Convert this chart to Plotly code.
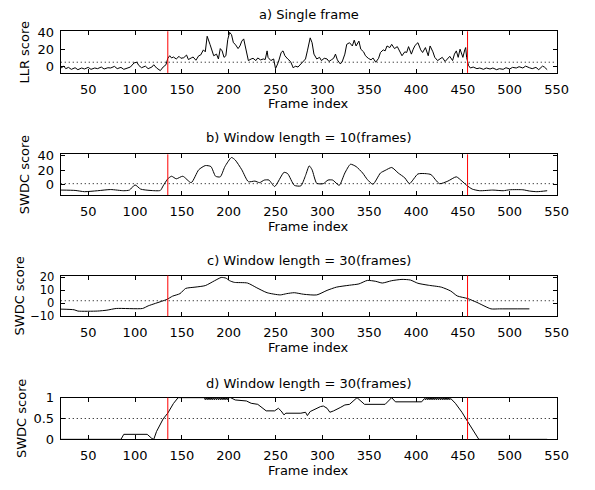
import plotly.graph_objects as go

# ---------------- data ----------------
frames_a = [21, 24, 26, 29, 32, 36, 39, 43, 46, 50, 53, 57, 60, 64, 67, 71, 74, 78, 81, 85, 88, 92, 95, 99,
            102, 104, 107, 111, 114, 118, 120, 123, 127, 130, 133, 135, 137, 139, 141, 144, 147, 149, 152,
            155, 157, 160, 162, 165, 168, 170, 173, 175, 177, 180, 182, 184, 187, 189, 191, 193, 195, 197,
            199, 201, 203, 205, 207, 210, 212, 214, 216, 217, 219, 221, 224, 226, 229, 231, 234, 237, 239,
            241, 242, 245, 248, 250, 253, 256, 258, 260, 263, 266, 269, 271, 274, 277, 279, 282, 284, 287,
            289, 291, 294, 297, 299, 302, 305, 307, 310, 312, 314, 316, 319, 321, 324, 326, 329, 332, 334,
            336, 339, 341, 344, 346, 349, 352, 354, 357, 360, 362, 365, 367, 369, 372, 374, 377, 380, 382,
            385, 388, 390, 392, 395, 397, 399, 402, 405, 407, 410, 413, 415, 418, 420, 423, 426, 428, 431,
            434, 436, 439, 441, 443, 445, 447, 450, 452, 453, 454, 456, 458, 461, 465, 468, 472, 475, 479,
            482, 486, 489, 493, 496, 500, 503, 507, 510, 514, 517, 521, 524, 528, 531, 535, 537, 540]
llr_a = [-2.2, 0.0, -3.0, -1.5, -3.8, -1.9, -4.2, -2.2, -3.4, -1.5, -3.8, -2.2, -3.0, -1.1, -3.4, -1.9, -2.2,
         -0.3, -3.0, -1.5, -3.8, -2.2, -1.1, 3.8, 4.6, 0.8, -1.9, 0.0, -3.0, -1.1, 1.6, -2.2, -5.3, -1.1, 1.6,
         9.2, 12.2, 9.6, 10.7, 8.4, 11.5, 9.2, 9.9, 13.0, 7.7, 9.6, 10.7, 6.9, 12.2, 13.0, 19.1, 16.8, 35.1,
         25.6, 17.9, 12.2, 14.1, 8.4, 20.6, 17.9, 10.3, 12.2, 31.3, 39.7, 37.0, 27.5, 25.6, 20.6, 23.7, 29.4,
         32.0, 26.7, 19.9, 6.5, 8.4, 9.2, 6.5, 9.6, 7.3, 8.4, 7.7, 17.9, 10.3, 6.5, 8.4, -3.0, 4.6, 16.0,
         17.9, 12.2, 8.4, 5.4, -2.2, 0.0, -1.1, 2.7, 5.4, 8.4, 17.9, 33.2, 27.5, 14.1, 8.4, 10.3, 6.5, 9.2,
         8.4, 5.4, 7.7, 9.2, 14.1, 7.3, 2.7, 4.6, 14.1, 25.6, 27.5, 23.7, 30.5, 23.7, 29.4, 19.9, 16.8, 12.2,
         9.2, 7.3, 9.6, 4.6, 9.2, 16.0, 19.1, 17.9, 23.7, 21.8, 25.6, 20.6, 22.9, 17.9, 12.2, 16.8, 16.0,
         22.9, 14.1, 19.9, 24.4, 27.5, 19.1, 16.0, 21.8, 12.2, 23.7, 16.8, 10.3, 6.5, 8.4, 10.3, 5.4, 8.4,
         11.5, 6.5, 14.1, 17.9, 10.3, 19.9, 10.3, 19.1, 21.8, 10.3, 0.8, -2.2, -1.1, -3.0, -2.2, -3.8, -2.2,
         -3.4, -2.2, -4.2, -3.0, -3.8, -1.9, -3.4, -1.5, -2.2, -0.7, -2.2, 0.0, -1.9, -3.0, -1.5, -4.2, 0.0,
         -1.1, -4.2]

frames_b = [21, 36, 46, 60, 74, 88, 94, 100, 106, 116, 127, 130, 135, 139, 144, 151, 160, 168, 175, 181,
            186, 191, 196, 203, 207, 214, 221, 228, 233, 238, 243, 249, 259, 263, 270, 277, 282, 286, 289,
            294, 301, 306, 311, 318, 324, 330, 336, 343, 348, 354, 362, 367, 374, 381, 388, 393, 402, 411,
            416, 425, 434, 443, 449, 454, 460, 468, 482, 493, 500, 514, 521, 529, 540]
swdc_b = [-7.2, -7.7, -9.4, -8.1, -6.5, -8.1, -7.2, -0.2, -5.9, -7.7, -7.7, -1.5, 8.1, 11.6, 8.1, 11.6, 2.9,
          20.4, 26.1, 24.8, 11.6, 10.8, 24.8, 37.1, 33.6, 20.4, 4.2, 5.0, 2.9, 6.4, 6.4, -2.4, 16.9, 15.1,
          -0.7, -1.5, 12.5, 25.7, 20.4, 2.0, 1.5, 6.4, 6.4, -0.7, 16.0, 27.9, 24.8, 16.0, 7.2, 0.7, 16.0,
          19.5, 23.5, 16.0, 9.4, 1.5, 14.7, 15.1, 13.8, 1.5, 5.0, 10.8, 5.0, -0.7, -5.9, -8.1, -7.2, -8.1,
          -6.8, -6.8, -8.5, -9.4, -8.1]

frames_c = [21, 35, 39, 60, 70, 80, 108, 114, 122, 134, 140, 148, 154, 164, 175, 185, 192, 197, 201, 206,
            220, 230, 241, 255, 262, 270, 280, 294, 305, 315, 329, 339, 348, 357, 364, 374, 385, 394, 402,
            413, 427, 437, 444, 455, 465, 480, 489, 521]
swdc_c = [-4.7, -5.2, -6.2, -6.2, -5.5, -4.2, -4.2, -2.2, -0.2, 2.8, 5.3, 7.3, 11.3, 12.3, 13.5, 17.3, 19.8,
          19.3, 17.3, 16.0, 15.5, 11.8, 8.0, 6.3, 7.3, 8.0, 6.8, 6.3, 9.8, 12.3, 13.8, 14.8, 17.5, 16.8,
          15.5, 17.3, 18.3, 17.8, 15.3, 13.8, 12.3, 9.3, 5.5, 3.5, 0.5, -4.5, -4.5, -4.5]

frames_d = [21, 85, 88, 113, 118, 120, 123, 130, 135, 141, 146, 174,
            175, 176, 177, 178, 179, 180, 181, 182, 183, 184, 185, 186, 187, 188, 189, 190, 191, 192, 193,
            194, 195, 196, 197, 198, 199,
            200, 202, 207, 219, 224, 231, 237, 240, 249, 253, 256, 259, 261, 277, 282, 284, 287, 292, 298,
            301, 305, 308, 312, 319, 324, 329, 334, 337, 345, 367, 374, 378, 406, 409,
            410, 411, 412, 413, 414, 415, 416, 417, 418, 419, 420, 421, 422, 423, 424, 425, 426, 427, 428,
            429, 430, 431, 432, 433, 434, 435, 436,
            437, 442, 449, 455, 461, 467, 540]
swdc_d = [0.0, 0.0, 0.12, 0.12, 0.02, 0.0, 0.19, 0.49, 0.63, 0.86, 1.0, 1.0,
          0.95, 1.0, 0.95, 1.0, 0.95, 1.0, 0.95, 1.0, 0.95, 1.0, 0.95, 1.0, 0.95, 1.0, 0.95, 1.0, 0.95, 1.0,
          0.95, 1.0, 0.95, 1.0, 0.95, 1.0, 0.95,
          1.0, 1.0, 0.945, 0.92, 0.865, 0.84, 0.746, 0.683, 0.683, 0.746, 0.68, 0.587, 0.627, 0.627, 0.65,
          0.57, 0.667, 0.73, 0.786, 0.8, 0.746, 0.65, 0.683, 0.762, 0.825, 0.84, 0.945, 1.0, 0.84, 0.84,
          1.0, 0.9, 0.9, 0.98,
          0.95, 1.0, 0.95, 1.0, 0.95, 1.0, 0.95, 1.0, 0.95, 1.0, 0.95, 1.0, 0.95, 1.0, 0.95, 1.0, 0.95, 1.0,
          0.95, 1.0, 0.95, 1.0, 0.95, 1.0, 0.95, 1.0, 0.95,
          0.98, 0.865, 0.65, 0.43, 0.21, 0.0, 0.0]

boundaries = [135, 455]
thresholds = [4.6, 1.5, 1.8, 0.5]
titles = ["a) Single frame", "b) Window length = 10(frames)",
          "c) Window length = 30(frames)", "d) Window length = 30(frames)"]
ylabels = ["LLR score", "SWDC score", "SWDC score", "SWDC score"]
xlabel = "Frame index"
yranges = [[-8, 41], [-14, 41.4], [-10.2, 21.3], [0, 1]]
ytickvals = [[0, 20, 40], [0, 20, 40], [-10, 0, 10, 20], [0, 0.5, 1]]
yticktext = [["0", "20", "40"], ["0", "20", "40"], ["\u221210", "0", "10", "20"], ["0", "0.5", "1"]]
xtickvals = [50, 100, 150, 200, 250, 300, 350, 400, 450, 500, 550]
xrange = [20.7, 550]

# ---------------- layout geometry (pixels) ----------------
W, H = 595, 490
LEFT, RIGHT = 62, 568
tops = [25, 152, 277, 403]
bottoms = [68, 194, 319, 446]
title_y = [8, 135, 262, 388]
ylab_x = [25, 25, 20, 22]
ytick_fs = [13, 13, 11.5, 13]

FONT = "DejaVu Sans"
FS = 13

series = [(frames_a, llr_a, "linear"), (frames_b, swdc_b, "spline"),
          (frames_c, swdc_c, "spline"), (frames_d, swdc_d, "linear")]

fig = go.Figure()
layout = dict(width=W, height=H, autosize=False, margin=dict(l=0, r=0, t=0, b=0),
              paper_bgcolor="white", plot_bgcolor="white", showlegend=False,
              font=dict(family=FONT, size=FS, color="black"))
shapes, annotations = [], []

for i in range(4):
    n = "" if i == 0 else str(i + 1)
    xs, ys, shape = series[i]
    line = dict(color="black", width=1, shape=shape)
    if shape == "spline":
        line["smoothing"] = 0.6
    fig.add_trace(go.Scatter(x=xs, y=ys, mode="lines", line=line,
                             xaxis="x" + n, yaxis="y" + n, hoverinfo="skip"))
    common = dict(showline=True, linecolor="black", linewidth=1, mirror="ticks",
                  ticks="inside", ticklen=4, tickcolor="black", tickwidth=1,
                  showgrid=False, zeroline=False)
    layout["xaxis" + n] = dict(domain=[LEFT / W, RIGHT / W], range=xrange, anchor="y" + n,
                               tickvals=xtickvals, ticklabelstandoff=4,
                               tickfont=dict(family=FONT, size=FS, color="black"), **common)
    layout["yaxis" + n] = dict(domain=[1 - bottoms[i] / H, 1 - tops[i] / H], range=yranges[i],
                               anchor="x" + n, tickvals=ytickvals[i], ticktext=yticktext[i],
                               ticklabelstandoff=3,
                               tickfont=dict(family=FONT, size=ytick_fs[i], color="black"), **common)
    # threshold (dotted) line
    shapes.append(dict(type="line", xref="x" + n + " domain", yref="y" + n,
                       x0=0, x1=1, y0=thresholds[i], y1=thresholds[i],
                       line=dict(color="black", width=1, dash="1px,3px")))
    # boundaries (red)
    for b in boundaries:
        shapes.append(dict(type="line", xref="x" + n, yref="y" + n + " domain",
                           x0=b, x1=b, y0=0, y1=1, line=dict(color="red", width=1)))
    cx = (LEFT + RIGHT) / 2 / W
    annotations.append(dict(text=titles[i], xref="paper", yref="paper", x=cx, y=1 - title_y[i] / H,
                            xanchor="center", yanchor="middle", showarrow=False,
                            font=dict(family=FONT, size=FS, color="black")))
    annotations.append(dict(text=xlabel, xref="paper", yref="paper", x=cx,
                            y=1 - (bottoms[i] + 32) / H, xanchor="center", yanchor="middle",
                            showarrow=False, font=dict(family=FONT, size=FS, color="black")))
    annotations.append(dict(text=ylabels[i], xref="paper", yref="paper", x=ylab_x[i] / W,
                            y=1 - (tops[i] + bottoms[i]) / 2 / H, xanchor="center", yanchor="middle",
                            textangle=-90, showarrow=False,
                            font=dict(family=FONT, size=FS, color="black")))

layout["shapes"] = shapes
layout["annotations"] = annotations
fig.update_layout(**layout)

# remove the default page margin so the 595x490 figure fills the window exactly
post = ("document.body.style.margin='0';document.body.style.padding='0';"
        "document.documentElement.style.overflow='hidden';")
fig.write_html("out.html", post_script=post,
               config={"displayModeBar": False, "responsive": False, "staticPlot": True})
